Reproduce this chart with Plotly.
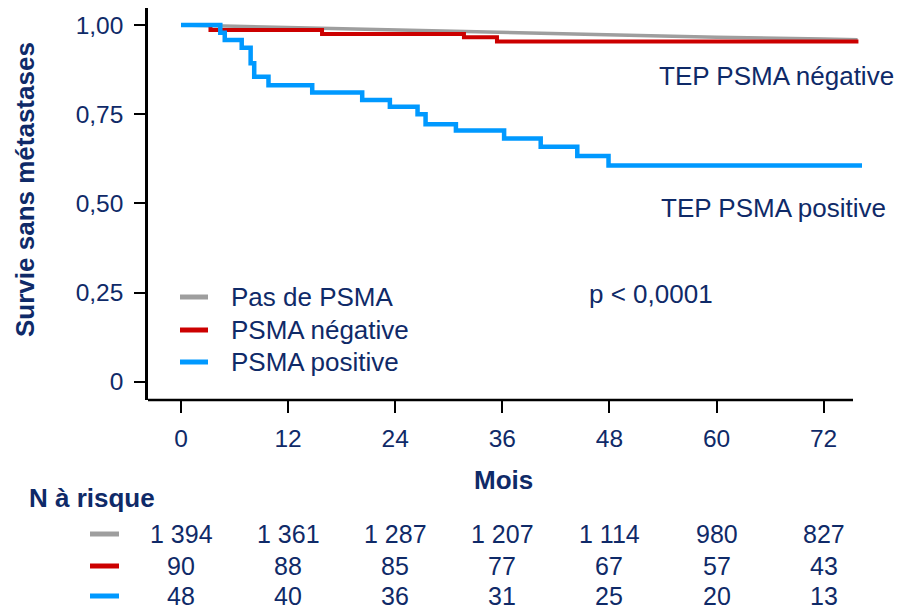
import plotly.graph_objects as go

# ---------------- data ----------------
series_names = ["Pas de PSMA", "PSMA négative", "PSMA positive"]
series_colors = ["#9e9e9e", "#cc0000", "#0099ff"]

t_none = [0, 12, 24, 36, 48, 60, 72, 75.8]
s_none = [1.0, 0.993, 0.985, 0.978, 0.971, 0.966, 0.961, 0.959]

t_neg = [0, 3.3, 15.8, 31.7, 35.4, 75.9]
s_neg = [1.0, 0.986, 0.975, 0.966, 0.954, 0.954]

t_pos = [0, 4.4, 4.9, 6.8, 7.8, 8.2, 9.8, 14.7, 20.3, 23.4, 26.5, 27.4,
         30.8, 36.2, 40.3, 44.4, 47.9, 76.3]
s_pos = [1.0, 0.978, 0.958, 0.936, 0.893, 0.855, 0.831, 0.811, 0.790, 0.771,
         0.750, 0.722, 0.704, 0.682, 0.659, 0.633, 0.606, 0.606]

x_ticks = [0, 12, 24, 36, 48, 60, 72]
y_ticks = [0, 0.25, 0.5, 0.75, 1.0]
y_ticklabels = ["0", "0,25", "0,50", "0,75", "1,00"]

risk_none = ["1 394", "1 361", "1 287", "1 207", "1 114", "980", "827"]
risk_neg = ["90", "88", "85", "77", "67", "57", "43"]
risk_pos = ["48", "40", "36", "31", "25", "20", "13"]
risk_rows = [risk_none, risk_neg, risk_pos]

# ---------------- style ----------------
NAVY = "#0f2a68"
FONT = "Liberation Sans, Arial, sans-serif"
W, H = 900, 610
L, R, T, B = 148, 38, 8, 210
PW, PH = W - L - R, H - T - B


def px(x):
    return (x - L) / PW


def py(y):
    return (H - B - y) / PH


fig = go.Figure()
widths = [3.5, 4, 4.5]
shapes_ = ["linear", "hv", "hv"]
for name, col, t, s, w, sh in zip(series_names, series_colors,
                                  [t_none, t_neg, t_pos],
                                  [s_none, s_neg, s_pos], widths, shapes_):
    fig.add_trace(go.Scatter(x=t, y=s, mode="lines", name=name,
                             line=dict(color=col, width=w, shape=sh),
                             showlegend=False, hoverinfo="skip"))

fig.update_layout(
    width=W, height=H,
    margin=dict(l=L, r=R, t=T, b=B),
    paper_bgcolor="white", plot_bgcolor="white",
    font=dict(family=FONT, color=NAVY, size=24),
    xaxis=dict(range=[-3.7, 76.3], tickvals=x_ticks, showgrid=False,
               zeroline=False, showline=False, ticks="outside", ticklen=12,
               tickwidth=2, tickcolor="black",
               tickfont=dict(size=24.5, color=NAVY, family=FONT),
               ticklabelstandoff=5),
    yaxis=dict(range=[-0.0513, 1.0477], tickvals=y_ticks,
               ticktext=y_ticklabels, showgrid=False, zeroline=False,
               showline=True, linecolor="black", linewidth=2.5,
               ticks="outside", ticklen=11, tickwidth=2, tickcolor="black",
               tickfont=dict(size=24.5, color=NAVY, family=FONT),
               ticklabelstandoff=6),
)

# x axis line (ends before curves end)
fig.add_shape(type="line", xref="paper", yref="paper",
              x0=0, x1=px(853), y0=0, y1=0,
              line=dict(color="black", width=2.5))

ann = []
# axis titles
ann.append(dict(text="<b>Survie sans métastases</b>", xref="paper", yref="paper",
                x=px(25), y=py(190), textangle=-90, showarrow=False,
                font=dict(size=26, color=NAVY, family=FONT),
                xanchor="center", yanchor="middle"))
ann.append(dict(text="<b>Mois</b>", xref="paper", yref="paper",
                x=px(503), y=py(480), showarrow=False,
                font=dict(size=26, color=NAVY, family=FONT),
                xanchor="center", yanchor="middle"))
# curve labels
ann.append(dict(text="TEP PSMA négative", xref="paper", yref="paper",
                x=px(657), y=py(76), showarrow=False, xanchor="left",
                yanchor="middle", font=dict(size=26, color=NAVY, family=FONT)))
ann.append(dict(text="TEP PSMA positive", xref="paper", yref="paper",
                x=px(659), y=py(208), showarrow=False, xanchor="left",
                yanchor="middle", font=dict(size=26, color=NAVY, family=FONT)))
ann.append(dict(text="p < 0,0001", xref="paper", yref="paper",
                x=px(587), y=py(294), showarrow=False, xanchor="left",
                yanchor="middle", font=dict(size=26, color=NAVY, family=FONT)))

# legend (manual)
leg_y = [297, 330, 362]
for name, col, yy in zip(series_names, series_colors, leg_y):
    fig.add_shape(type="line", xref="paper", yref="paper",
                  x0=px(180), x1=px(208), y0=py(yy), y1=py(yy),
                  line=dict(color=col, width=5))
    ann.append(dict(text=name, xref="paper", yref="paper",
                    x=px(229), y=py(yy), showarrow=False, xanchor="left",
                    yanchor="middle",
                    font=dict(size=26, color=NAVY, family=FONT)))

# risk table
ann.append(dict(text="<b>N à risque</b>", xref="paper", yref="paper",
                x=px(27), y=py(498), showarrow=False, xanchor="left",
                yanchor="middle", font=dict(size=26, color=NAVY, family=FONT)))
row_y = [534, 566, 596]
for vals, col, yy in zip(risk_rows, series_colors, row_y):
    fig.add_shape(type="line", xref="paper", yref="paper",
                  x0=px(90), x1=px(119), y0=py(yy), y1=py(yy),
                  line=dict(color=col, width=5))
    for t, v in zip(x_ticks, vals):
        ann.append(dict(text=v, xref="x", yref="paper", x=t, y=py(yy),
                        showarrow=False, xanchor="center", yanchor="middle",
                        borderpad=0,
                        font=dict(size=25, color=NAVY, family=FONT)))

fig.update_layout(annotations=ann)
fig.write_html("out.html",
               config={"displayModeBar": False},
               post_script="document.body.style.margin='0';"
                           "document.body.style.overflow='hidden';")
